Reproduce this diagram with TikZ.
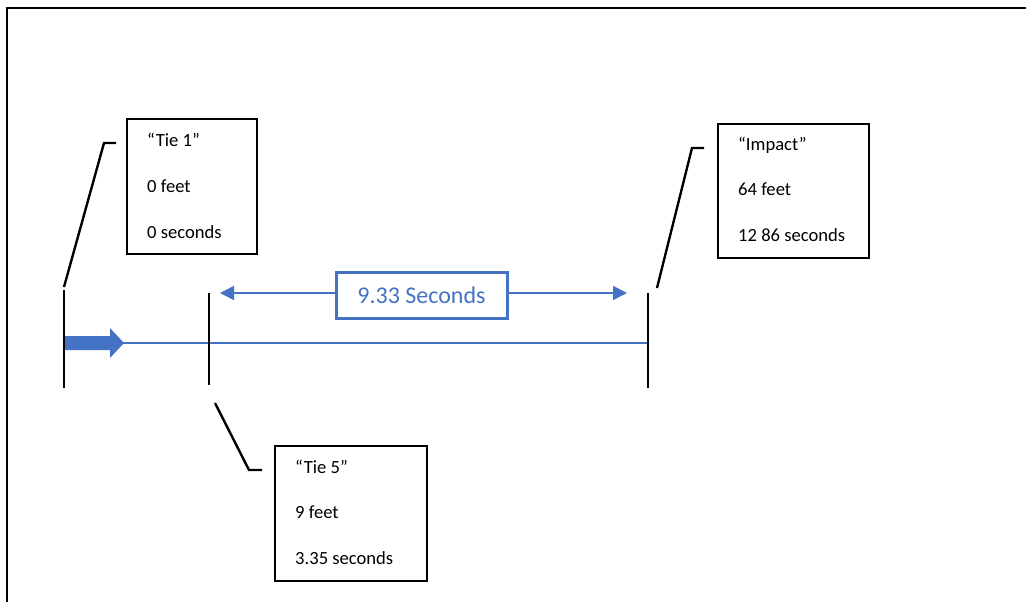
\documentclass[tikz,border=0pt]{standalone}
\usepackage{fontspec}
\setmainfont{Carlito}
\usetikzlibrary{arrows.meta}
\definecolor{obl}{HTML}{4472C4}
\tikzset{
  infobox/.style={draw=black,line width=2pt,anchor=north west,inner sep=0pt},
  infotext/.style={anchor=base west,inner sep=0pt,font=\fontsize{18.6}{22}\selectfont},
  leader/.style={line width=2.4pt,black},
  tick/.style={line width=2.4pt,black},
  frame/.style={line width=2.6pt,black},
  dimarrow/.style={obl,line width=1.6pt,-{Triangle[length=14pt,width=14pt]}},
}
\begin{document}
\begin{tikzpicture}[x=1pt,y=-1pt]
\useasboundingbox (0,0) rectangle (1026,602);
% frame
\draw[frame] (7,606) -- (7,8) -- (1030,8);
% boxes
\node[infobox,minimum width=130pt,minimum height=135pt] (b1) at (126,118) {};
\node[infobox,minimum width=151pt,minimum height=134pt] (b3) at (717,123) {};
\node[infobox,minimum width=152pt,minimum height=135pt] (b2) at (274,445) {};
% texts
\node[infotext] (t1a) at (147,146) {“Tie 1”};
\node[infotext] (t1b) at (147,192) {0 feet};
\node[infotext] (t1c) at (147,238) {0 seconds};
\node[infotext] (t3a) at (738,150) {“Impact”};
\node[infotext] (t3b) at (738,195) {64 feet};
\node[infotext] (t3c) at (738,241) {12 86 seconds};
\node[infotext] (t2a) at (295,473) {“Tie 5”};
\node[infotext] (t2b) at (295,518) {9 feet};
\node[infotext] (t2c) at (295,564) {3.35 seconds};
% ticks
\coordinate (p1t) at (64,290); \coordinate (p1b) at (64,388);
\coordinate (p2t) at (209,293); \coordinate (p2b) at (209,385);
\coordinate (p3t) at (648,293); \coordinate (p3b) at (648,388);
% blue line
\draw[obl,line width=2pt] (p1t |- 0,343) -- (p3t |- 0,343);
% block arrow
\coordinate (a0) at (64,336);
\fill[obl] (64,336) -- (110,336) -- (110,328) -- (124,343) -- (110,358) -- (110,350) -- (64,350) -- cycle;
\draw[tick] (p1t) -- (p1b);
\draw[tick] (p2t) -- (p2b);
\draw[tick] (p3t) -- (p3b);
% leaders
\coordinate (l1a) at (116,143); \coordinate (l1b) at (104,143); \coordinate (l1c) at (64,287);
\draw[leader] (l1a) -- (l1b) -- (l1c);
\coordinate (l3a) at (704,148); \coordinate (l3b) at (692,148); \coordinate (l3c) at (657,288);
\draw[leader] (l3a) -- (l3b) -- (l3c);
\coordinate (l2a) at (215,403); \coordinate (l2b) at (249,470); \coordinate (l2c) at (262,470);
\draw[leader] (l2a) -- (l2b) -- (l2c);
% dimension
\node[draw=obl,line width=3pt,text=obl,minimum width=171pt,minimum height=46pt,inner sep=0pt,font=\fontsize{24}{28}\selectfont] (dim) at (421.5,295) {9.33 Seconds};
\coordinate (dl) at (220,293); \coordinate (dr) at (627,293);
\draw[dimarrow] (dim.west |- dl) -- (dl);
\draw[dimarrow] (dim.east |- dr) -- (dr);
\end{tikzpicture}
\end{document}
